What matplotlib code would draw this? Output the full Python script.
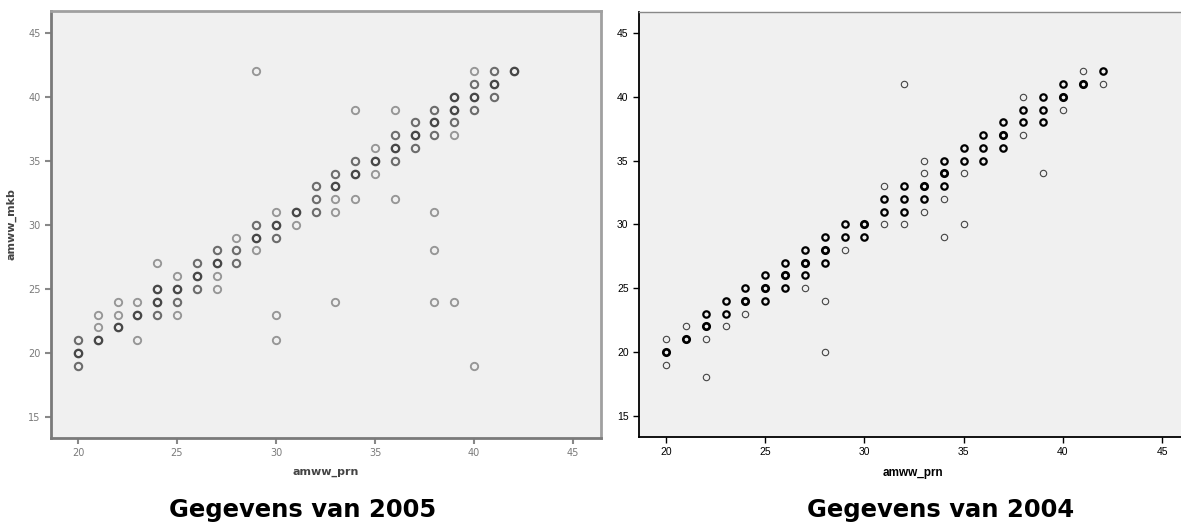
import numpy as np
import matplotlib
matplotlib.use('Agg')
import matplotlib.pyplot as plt

# 2005: amww_prn (x), amww_mkb (y), number of overlapping cases at each point
x_2005 = [20, 20, 20, 21, 21, 21, 22, 22, 22, 23, 23, 23,
          24, 24, 24, 24, 25, 25, 25, 25, 26, 26, 26, 27, 27, 27, 27,
          28, 28, 28, 29, 29, 29, 29, 30, 30, 30, 30, 30, 31, 31,
          32, 32, 32, 33, 33, 33, 33, 33, 34, 34, 34, 34, 35, 35, 35,
          36, 36, 36, 36, 36, 37, 37, 37, 38, 38, 38, 38, 38, 38,
          39, 39, 39, 39, 39, 40, 40, 40, 40, 40, 41, 41, 41, 42]
y_2005 = [21, 20, 19, 23, 22, 21, 24, 23, 22, 24, 23, 21,
          27, 25, 24, 23, 26, 25, 24, 23, 27, 26, 25, 28, 27, 26, 25,
          29, 28, 27, 42, 30, 29, 28, 31, 30, 29, 23, 21, 31, 30,
          33, 32, 31, 34, 33, 32, 31, 24, 39, 35, 34, 32, 36, 35, 34,
          39, 37, 36, 35, 32, 38, 37, 36, 39, 38, 37, 31, 28, 24,
          40, 39, 38, 37, 24, 42, 41, 40, 39, 19, 42, 41, 40, 42]
n_2005 = [2, 3, 2, 1, 1, 3, 1, 1, 3, 1, 3, 1,
          1, 3, 3, 2, 1, 3, 2, 1, 2, 3, 2, 2, 3, 1, 1,
          1, 2, 2, 1, 2, 3, 1, 1, 3, 2, 1, 1, 3, 1,
          2, 2, 2, 2, 3, 1, 1, 1, 1, 2, 3, 1, 1, 3, 1,
          1, 2, 3, 2, 1, 2, 3, 2, 2, 3, 2, 1, 1, 1,
          3, 3, 2, 1, 1, 1, 2, 3, 2, 1, 2, 3, 2, 3]

# 2004
x_2004 = [20, 20, 20, 21, 21, 22, 22, 22, 22, 23, 23, 23,
          24, 24, 24, 25, 25, 25, 26, 26, 26, 27, 27, 27, 27,
          28, 28, 28, 28, 28, 29, 29, 29, 30, 30,
          31, 31, 31, 31, 32, 32, 32, 32, 32, 33, 33, 33, 33, 33,
          34, 34, 34, 34, 34, 35, 35, 35, 35, 36, 36, 36, 37, 37, 37,
          38, 38, 38, 38, 39, 39, 39, 39, 40, 40, 40, 41, 41, 42, 42]
y_2004 = [21, 20, 19, 22, 21, 23, 22, 21, 18, 24, 23, 22,
          25, 24, 23, 26, 25, 24, 27, 26, 25, 28, 27, 26, 25,
          29, 28, 27, 24, 20, 30, 29, 28, 30, 29,
          33, 32, 31, 30, 41, 33, 32, 31, 30, 35, 34, 33, 32, 31,
          35, 34, 33, 32, 29, 36, 35, 34, 30, 37, 36, 35, 38, 37, 36,
          40, 39, 38, 37, 40, 39, 38, 34, 41, 40, 39, 42, 41, 42, 41]
n_2004 = [1, 3, 1, 1, 3, 2, 3, 1, 1, 2, 2, 1,
          2, 3, 1, 2, 3, 2, 2, 3, 2, 2, 3, 2, 1,
          2, 3, 2, 1, 1, 2, 2, 1, 3, 2,
          1, 2, 2, 1, 1, 2, 2, 2, 1, 1, 1, 3, 2, 1,
          2, 3, 2, 1, 1, 2, 2, 1, 1, 2, 2, 2, 2, 3, 2,
          1, 2, 2, 1, 2, 2, 2, 1, 2, 3, 1, 1, 3, 2, 1]

ticks = [20, 25, 30, 35, 40, 45]
yticks = [15, 20, 25, 30, 35, 40, 45]

fig = plt.figure(figsize=(11.81, 5.27), dpi=100)
fig.patch.set_facecolor('white')

# --- 2005 (soft grey scan) ---
ax1 = fig.add_axes([0.0432, 0.1689, 0.4657, 0.8102])
ax1.set_facecolor('#f0f0f0')
shade = {1: '#969696', 2: '#6c6c6c', 3: '#474747'}
for xi, yi, ni in zip(x_2005, y_2005, n_2005):
    ax1.plot(xi, yi, 'o', ms=5.3, mfc='none', mec=shade[ni], mew=1.2 + 0.15 * ni)
ax1.set_xlim(18.64, 46.41)
ax1.set_ylim(13.36, 46.7)
ax1.set_xticks(ticks)
ax1.set_yticks(yticks)
for s in ax1.spines.values():
    s.set_color('#a0a0a0')
    s.set_linewidth(2.0)
ax1.spines['left'].set_color('#7a7a7a')
ax1.spines['bottom'].set_color('#7a7a7a')
ax1.tick_params(colors='#888888', labelcolor='#7a7a7a', labelsize=7, length=4, width=1.5)
ax1.set_xlabel('amww_prn', fontsize=8, fontweight='bold', color='#444444', labelpad=6)
ax1.set_ylabel('amww_mkb', fontsize=8, fontweight='bold', color='#444444', labelpad=8)

# --- 2004 ---
ax2 = fig.add_axes([0.5411, 0.1708, 0.4630, 0.8065])
ax2.set_facecolor('#f0f0f0')
for xi, yi, ni in zip(x_2004, y_2004, n_2004):
    if ni == 1:
        ax2.plot(xi, yi, 'o', ms=4.6, mfc='none', mec='#444444', mew=0.8)
    else:
        ax2.plot(xi, yi, 'o', ms=4.6, mfc='none', mec='black', mew=0.9 + 0.35 * ni)
ax2.set_xlim(18.64, 46.2)
ax2.set_ylim(13.33, 46.65)
ax2.set_xticks(ticks)
ax2.set_yticks(yticks)
ax2.spines['right'].set_visible(False)
ax2.spines['top'].set_color('#888888')
ax2.spines['top'].set_linewidth(1.0)
for side in ['left', 'bottom']:
    ax2.spines[side].set_color('black')
    ax2.spines[side].set_linewidth(1.3)
ax2.tick_params(labelsize=7.5, length=4, width=1.0)
for lab in ax2.get_xticklabels() + ax2.get_yticklabels():
    lab.set_fontfamily('Liberation Sans')
ax2.set_xlabel('amww_prn', fontsize=8.5, fontweight='bold', family='Liberation Sans', labelpad=7)

fig.text(0.256, 0.032, 'Gegevens van 2005', ha='center', va='center',
         fontsize=17.5, fontweight='bold', family='DejaVu Sans')
fig.text(0.796, 0.032, 'Gegevens van 2004', ha='center', va='center',
         fontsize=17.5, fontweight='bold', family='DejaVu Sans')

fig.savefig('out.png', dpi=100)
